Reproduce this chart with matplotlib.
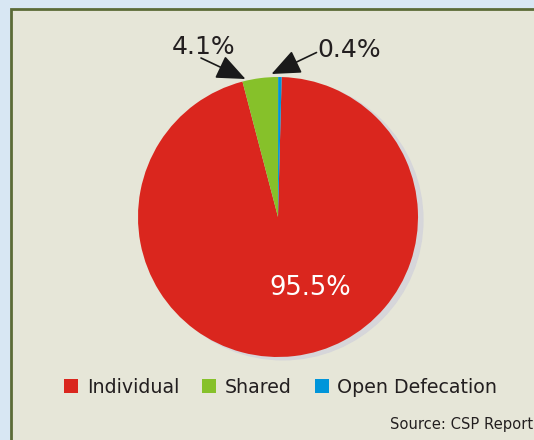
import matplotlib
matplotlib.use("Agg")
import matplotlib.pyplot as plt
from matplotlib.patches import Rectangle, Circle

# data
labels = ["Individual", "Shared", "Open Defecation"]
shares = [95.5, 4.1, 0.4]
colors = ["#DA261E", "#86C12A", "#0095DA"]
pct_text = ["95.5%", "4.1%", "0.4%"]

BG = "#E6E6D8"
W, H = 534, 440
CX, CY, R = 278, 217, 140  # pie centre / radius in pixels


def px(x, y):
    """pixel position -> pie data coords (radius 1 == R px)"""
    return (x - CX) / R, (CY - y) / R


fig = plt.figure(figsize=(W / 100, H / 100), dpi=100, facecolor="#D8E7F3")
# beige panel with olive frame
fig.patches.append(Rectangle((11 / W, -0.05), 1.1, 1 - 9 / H + 0.05,
                             transform=fig.transFigure, facecolor=BG,
                             edgecolor="#5B6B37", lw=2, zorder=-10))

ax = fig.add_axes([(CX - 150) / W, (H - CY - 150) / H, 300 / W, 300 / H])

# soft shadow behind the pie
ax.add_patch(Circle((0.035, -0.02), 1.0, color="#D6D6DA", zorder=0))
wedges, _ = ax.pie(shares, colors=colors, startangle=88.5, counterclock=False,
                   radius=1.0, wedgeprops=dict(lw=0))
# pie() resets the limits, so fix them afterwards
ax.set_xlim(-150 / R, 150 / R); ax.set_ylim(-150 / R, 150 / R)
ax.set_aspect("equal"); ax.axis("off")

ax.text(*px(310, 288), pct_text[0], color="white", fontsize=18.5,
        ha="center", va="center")
ax.text(*px(204, 46.5), pct_text[1], color="#231F20", fontsize=18,
        ha="center", va="center")
ax.text(*px(349.5, 50), pct_text[2], color="#231F20", fontsize=18,
        ha="center", va="center")

arrow = dict(arrowstyle="-|>,head_length=0.9,head_width=0.38",
             mutation_scale=20, color="#1A1A1A", lw=1.2, shrinkA=0, shrinkB=0)
ax.annotate("", xy=px(245.5, 79), xytext=px(201, 58), arrowprops=arrow,
            annotation_clip=False)
ax.annotate("", xy=px(271.5, 74), xytext=px(316.5, 52.5), arrowprops=arrow,
            annotation_clip=False)

fig.legend(wedges, labels, loc="center left",
           bbox_to_anchor=(64 / W, 1 - 387 / H), ncol=3, frameon=False,
           fontsize=13.7, handlelength=0.75, handleheight=0.75,
           handletextpad=0.45, columnspacing=1.2, borderpad=0,
           borderaxespad=0, labelcolor="#231F20")

fig.text(390 / W, 1 - 424 / H, "Source: CSP Report", fontsize=10.6,
         color="#231F20", ha="left", va="center")

fig.savefig("out.png", dpi=100, facecolor=fig.get_facecolor())
